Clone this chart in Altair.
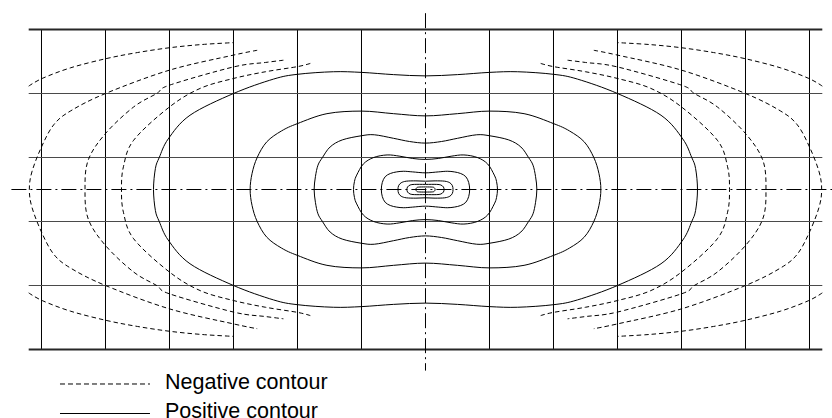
import altair as alt
import pandas as pd

# ---------------------------------------------------------------------------
# Contour levels, each given for the upper-left quarter only (the field is
# symmetric about both centre lines).  Units: x = grid columns, y = half rows.
# Positive (closed) contours run from the left extremity on the x axis to the
# top of the contour on the vertical centre line.
# ---------------------------------------------------------------------------
P1_X = [-4.25, -4.22, -4.16, -4.02, -3.68, -3.0, -2.375, -2.0, -1.44, -1.0, -0.5, 0.0]
P1_Y = [0.0, 0.66, 1.0, 1.58, 2.32, 3.0, 3.45, 3.6, 3.68, 3.66, 3.59, 3.55]

P2_X = [-2.74, -2.71, -2.63, -2.48, -2.25, -2.0, -1.54, -1.0, -0.5, 0.0]
P2_Y = [0.0, 0.5, 1.0, 1.49, 1.83, 2.06, 2.37, 2.45, 2.37, 2.3]

P3_X = [-1.74, -1.72, -1.68, -1.61, -1.49, -1.3, -1.0, -0.8, -0.5, -0.25, 0.0]
P3_Y = [0.0, 0.4, 0.76, 1.0, 1.33, 1.55, 1.68, 1.71, 1.6, 1.5, 1.45]

P4_X = [-1.125, -1.11, -1.075, -0.97, -0.81, -0.6, -0.4, -0.2, 0.0]
P4_Y = [0.0, 0.25, 0.45, 0.8, 1.0, 1.08, 1.04, 0.97, 0.94]

P5_X = [-0.69, -0.675, -0.63, -0.55, -0.45, -0.34, -0.2, 0.0]
P5_Y = [0.0, 0.22, 0.4, 0.5, 0.55, 0.57, 0.55, 0.52]

P6_X = [-0.43, -0.42, -0.38, -0.3, -0.15, 0.0]
P6_Y = [0.0, 0.12, 0.21, 0.26, 0.27, 0.26]

P7_X = [-0.29, -0.28, -0.24, -0.17, 0.0]
P7_Y = [0.0, 0.08, 0.14, 0.16, 0.16]

P8_X = [-0.15, -0.14, -0.11, 0.0]
P8_Y = [0.0, 0.05, 0.075, 0.08]

# Negative (open) contours: from the upper end of the arc down to the x axis.
N2_X = [-2.63, -3.0, -4.0, -5.0, -5.55, -5.81, -6.0, -6.15, -6.19]
N2_Y = [4.35, 4.2, 3.73, 3.0, 2.45, 2.02, 1.33, 0.55, 0.0]

N3_X = [-2.22, -2.5, -3.0, -4.0, -4.2, -4.56, -5.0, -5.27, -5.32]
N3_Y = [4.04, 3.97, 3.83, 3.26, 3.0, 2.58, 1.75, 0.92, 0.0]

N4_X = [-1.8, -2.0, -2.5, -3.0, -3.52, -4.0, -4.56, -4.72, -4.75]
N4_Y = [3.94, 3.84, 3.68, 3.47, 3.16, 2.58, 1.54, 0.71, 0.0]

# Outermost negative level only shows in the corners: frame edge -> arc end.
N1_X = [-6.2, -5.99, -5.55, -4.99, -4.5, -4.0, -3.5, -3.0]
N1_Y = [3.23, 3.47, 3.8, 4.09, 4.28, 4.43, 4.53, 4.59]

# Grid
GRID_COLS = [-6, -5, -4, -3, -2, -1, 1, 2, 3, 4, 5, 6]
GRID_ROWS = [-3, -1, 1, 3]
FRAME_ROWS = [-5, 5]
FRAME_X = 6.2

LEGEND_LABELS = ["Negative contour", "Positive contour"]


def closed_loop(xs, ys):
    ul = list(zip(xs, ys))
    ur = [(-x, y) for x, y in reversed(ul[:-1])]
    lr = [(-x, -y) for x, y in ul[1:]]
    ll = [(x, -y) for x, y in reversed(ul[1:-1])]
    return ul + ur + lr + ll


def open_arc(xs, ys, side):
    upper = [(side * x, y) for x, y in zip(xs, ys)]
    lower = [(side * x, -y) for x, y in reversed(list(zip(xs, ys))[:-1])]
    return upper + lower


def to_rows(points, key):
    return [{"x": x, "y": y, "id": key, "seq": i} for i, (x, y) in enumerate(points)]


pos_rows = []
for k, (xs, ys) in enumerate([(P1_X, P1_Y), (P2_X, P2_Y), (P3_X, P3_Y), (P4_X, P4_Y),
                               (P5_X, P5_Y), (P6_X, P6_Y), (P7_X, P7_Y), (P8_X, P8_Y)]):
    pos_rows += to_rows(closed_loop(xs, ys), f"p{k}")
pos_df = pd.DataFrame(pos_rows)

neg_rows = []
for k, (xs, ys) in enumerate([(N2_X, N2_Y), (N3_X, N3_Y), (N4_X, N4_Y)]):
    neg_rows += to_rows(open_arc(xs, ys, -1), f"nL{k}")
    neg_rows += to_rows(open_arc(xs, ys, 1), f"nR{k}")
for sx in (-1, 1):
    for sy in (-1, 1):
        pts = [(-sx * x, sy * y) for x, y in zip(N1_X, N1_Y)]
        neg_rows += to_rows(pts, f"n1_{sx}_{sy}")
neg_df = pd.DataFrame(neg_rows)

X_SCALE = alt.Scale(domain=[-6.6484, 6.3516], nice=False, zero=False)
Y_SCALE = alt.Scale(domain=[-7.1406, 5.9219], nice=False, zero=False)


def X(field="x"):
    return alt.X(f"{field}:Q", scale=X_SCALE, axis=None)


def Y(field="y"):
    return alt.Y(f"{field}:Q", scale=Y_SCALE, axis=None)


vgrid = alt.Chart(pd.DataFrame({"x": GRID_COLS, "y": -5, "y2": 5})).mark_rule(
    color="#000000", strokeWidth=1
).encode(x=X(), y=Y(), y2="y2:Q")

hgrid = alt.Chart(pd.DataFrame({"y": GRID_ROWS, "x": -FRAME_X, "x2": FRAME_X})).mark_rule(
    color="#4a4a4a", strokeWidth=1.2
).encode(x=X(), x2="x2:Q", y=Y())

frame = alt.Chart(pd.DataFrame({"y": FRAME_ROWS, "x": -FRAME_X, "x2": FRAME_X})).mark_rule(
    color="#262626", strokeWidth=2
).encode(x=X(), x2="x2:Q", y=Y())

axis_h = alt.Chart(pd.DataFrame({"y": [0], "x": [-6.47], "x2": [6.4]})).mark_rule(
    color="#000000", strokeWidth=1, strokeDash=[15, 4, 2, 4]
).encode(x=X(), x2="x2:Q", y=Y())

axis_v = alt.Chart(pd.DataFrame({"x": [0], "y": [5.51], "y2": [-5.66]})).mark_rule(
    color="#000000", strokeWidth=1, strokeDash=[15, 4, 2, 4]
).encode(x=X(), y=Y(), y2="y2:Q")

positive = alt.Chart(pos_df).mark_line(
    color="#000000", strokeWidth=1, interpolate="cardinal-closed"
).encode(x=X(), y=Y(), detail="id:N", order="seq:Q")

negative = alt.Chart(neg_df).mark_line(
    color="#000000", strokeWidth=1, interpolate="cardinal", strokeDash=[4.5, 3]
).encode(x=X(), y=Y(), detail="id:N", order="seq:Q")

# Legend
legend_lines = pd.DataFrame({
    "x": [-5.711, -5.711], "x2": [-4.305, -4.305], "y": [-6.078, -7.0],
    "kind": ["neg", "pos"],
})
leg_neg = alt.Chart(legend_lines[legend_lines.kind == "neg"]).mark_rule(
    color="#000000", strokeWidth=1, strokeDash=[5, 3]
).encode(x=X(), x2="x2:Q", y=Y())
leg_pos = alt.Chart(legend_lines[legend_lines.kind == "pos"]).mark_rule(
    color="#000000", strokeWidth=1
).encode(x=X(), x2="x2:Q", y=Y())

leg_text = alt.Chart(pd.DataFrame({
    "x": [-4.07, -4.07], "y": [-6.234, -7.156], "label": LEGEND_LABELS,
})).mark_text(
    align="left", baseline="alphabetic", font="Liberation Sans", fontSize=21.5,
    color="#000000"
).encode(x=X(), y=Y(), text="label:N")

chart = alt.layer(
    vgrid, hgrid, frame, axis_h, axis_v, negative, positive, leg_neg, leg_pos, leg_text
).properties(
    width=832, height=418, autosize=alt.AutoSizeParams(type="none"), padding=0,
    background="#ffffff"
).configure_view(strokeWidth=0)

chart.save("out.html", embed_options={"renderer": "svg", "actions": False})
